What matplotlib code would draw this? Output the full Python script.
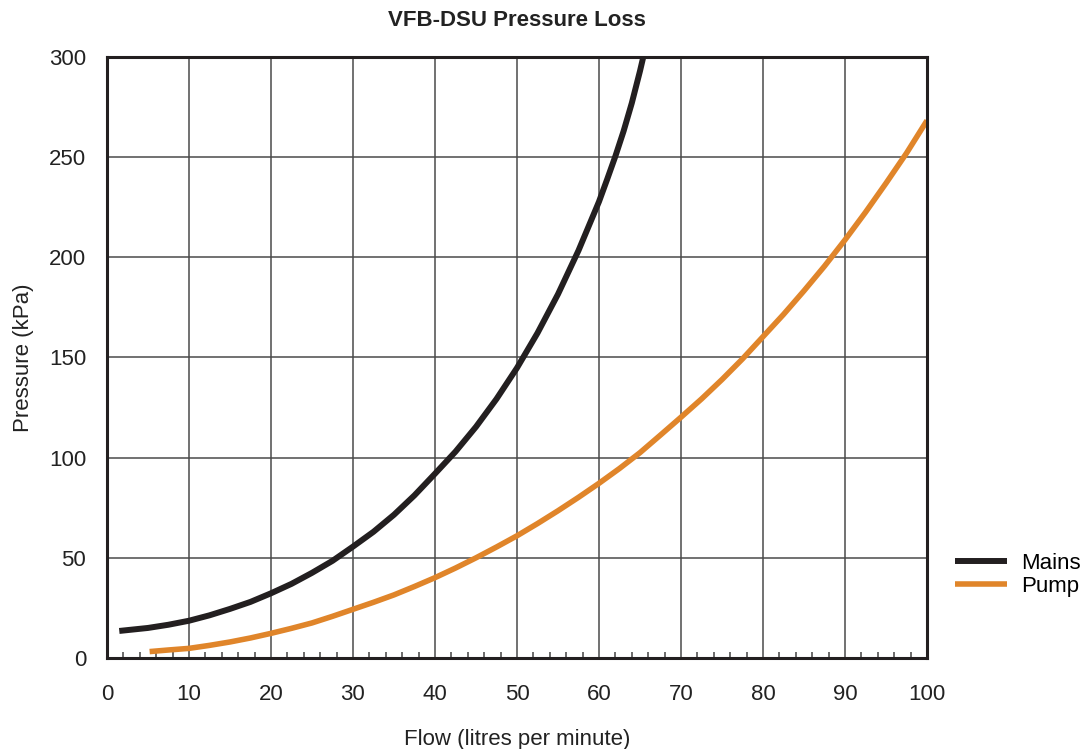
import numpy as np
import matplotlib.pyplot as plt
from matplotlib.ticker import MultipleLocator

plt.rcParams['font.family'] = ['Liberation Sans', 'DejaVu Sans']

# valores
mains_flow = [1.5, 5, 7.5, 10, 12.5, 15, 17.5, 20, 22.5, 25, 27.5, 30, 32.5, 35, 37.5,
              40, 42.5, 45, 47.5, 50, 52.5, 55, 57.5, 60, 61, 62, 63, 64, 65, 65.4]
mains_kpa = [13.5, 15, 16.6, 18.6, 21.3, 24.5, 28, 32.3, 37, 42.5, 48.5, 55.6, 63, 71.5, 81.2,
             92, 103, 115.4, 129.3, 144.8, 162.2, 181.6, 203.4, 227.8, 239, 250.5, 263,
             277, 293, 300]

pump_flow = [5.2, 7.5, 10, 12.5, 15, 17.5, 20, 22.5, 25, 27.5, 30, 32.5, 35, 37.5, 40,
             42.5, 45, 47.5, 50, 52.5, 55, 57.5, 60, 62.5, 65, 67.5, 70, 72.5, 75, 77.5,
             80, 82.5, 85, 87.5, 90, 92.5, 95, 97.5, 100]
pump_kpa = [3.2, 4.0, 4.8, 6.3, 8, 10, 12.3, 14.8, 17.5, 20.8, 24.3, 27.8, 31.5, 35.7, 40.1,
            44.9, 50, 55.4, 61, 67.1, 73.5, 80.2, 87.2, 94.6, 102.5, 111.3, 120.2, 129.3,
            139, 149.3, 160.4, 171.5, 183.3, 195.6, 208.7, 222.5, 237, 252, 268.3]

fig = plt.figure(figsize=(10.86, 7.49), dpi=100)
ax = fig.add_axes([0.0985, 0.1215, 0.7551, 0.8024])

ax.plot(mains_flow, mains_kpa, color='#231f20', lw=4.3, label='Mains', solid_capstyle='butt')
ax.plot(pump_flow, pump_kpa, color='#e0852a', lw=4.0, label='Pump', solid_capstyle='butt')

ax.set_xlim(0, 100)
ax.set_ylim(0, 300)
ax.xaxis.set_major_locator(MultipleLocator(10))
ax.xaxis.set_minor_locator(MultipleLocator(2))
ax.yaxis.set_major_locator(MultipleLocator(50))
ax.grid(True, which='major', color='#4a4a4a', lw=1.1)
ax.tick_params(axis='both', which='major', length=0, labelsize=16, colors='#222222')
ax.tick_params(axis='x', which='major', pad=19)
ax.tick_params(axis='y', which='major', pad=15)
ax.tick_params(axis='x', which='minor', direction='in', length=4.5, width=1.1, color='#444444')
for s in ax.spines.values():
    s.set_linewidth(2.2)
    s.set_color('#231f20')

ax.set_xlabel('Flow (litres per minute)', fontsize=16, labelpad=17, color='#222222')
ax.set_ylabel('Pressure (kPa)', fontsize=16, labelpad=11, color='#222222')
ax.set_title('VFB-DSU Pressure Loss', fontsize=16, fontweight='bold', pad=22, color='#222222')

ax.legend(loc='center left', bbox_to_anchor=(1.034, 0.138), frameon=False, fontsize=16,
          handlelength=2.35, handletextpad=0.63, labelspacing=0.1, borderpad=0,
          borderaxespad=0)

plt.savefig('out.png', dpi=100)
